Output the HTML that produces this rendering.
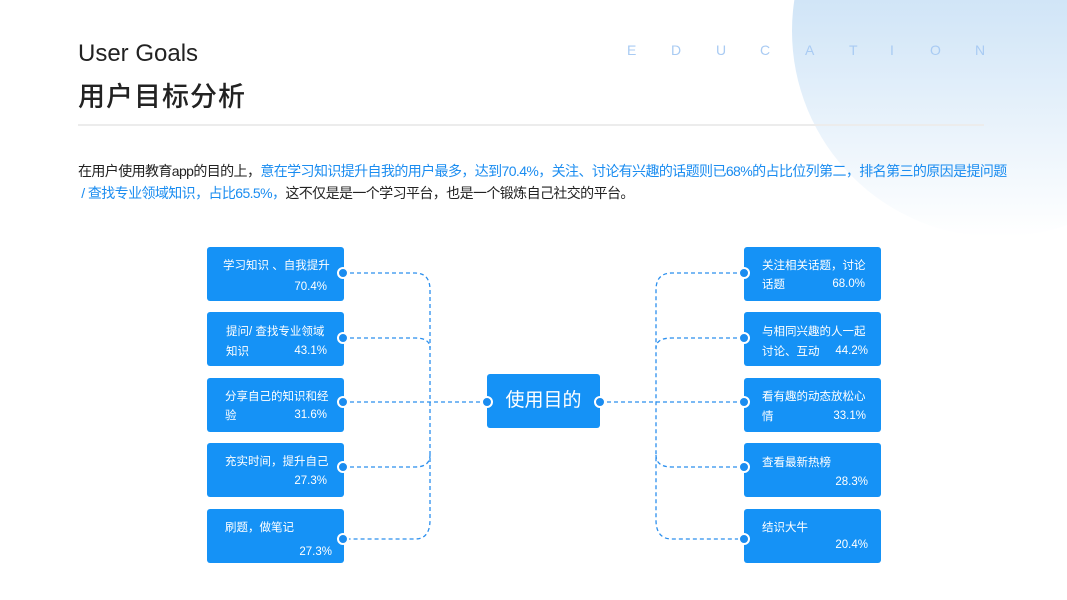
<!DOCTYPE html>
<html><head><meta charset="utf-8">
<style>
*{margin:0;padding:0;box-sizing:border-box}
body{width:1067px;height:600px;overflow:hidden;background:#fff;position:relative;font-family:"Liberation Sans","Noto Sans CJK SC",sans-serif}
.circ{position:absolute;left:792px;top:-175px;width:412px;height:412px;border-radius:50%;background:linear-gradient(180deg,#b3d4f1 0%,#d6e8f8 50%,#ffffff 100%)}
.t1{position:absolute;left:78px;top:40px;font-size:24px;color:#222}
.t2{position:absolute;left:78px;top:75px;font-size:27px;color:#222;font-weight:500;letter-spacing:1px}
.edu{position:absolute;top:42px;font-size:14px;color:#a9cbf3}
.line{position:absolute;left:78px;top:124px;width:906px;height:2px;background:#ececec}
.p{position:absolute;left:78px;top:160px;font-size:14px;color:#222;line-height:22px;white-space:nowrap;letter-spacing:-0.6px}
.b{color:#1a8cf0}
.box{position:absolute;width:137px;height:54px;background:#1592f6;border-radius:3px;color:#fff;font-size:11.5px}
.box span{position:absolute}
.c{position:absolute;left:487px;top:374px;width:113px;height:54px;background:#1592f6;border-radius:3px;color:#fff;font-size:19px;text-align:center;line-height:54px}
svg{position:absolute;left:0;top:0}
</style></head><body>
<div class="circ"></div>
<div class="t1">User Goals</div>
<div class="t2">用户目标分析</div>
<div class="edu" style="left:627px">E</div>
<div class="edu" style="left:671px">D</div>
<div class="edu" style="left:716px">U</div>
<div class="edu" style="left:760px">C</div>
<div class="edu" style="left:805px">A</div>
<div class="edu" style="left:849px">T</div>
<div class="edu" style="left:890px">I</div>
<div class="edu" style="left:930px">O</div>
<div class="edu" style="left:975px">N</div>
<div class="line"></div>
<div class="p">在用户使用教育app的目的上，<span class="b">意在学习知识提升自我的用户最多，达到70.4%，关注、讨论有兴趣的话题则已68%的占比位列第二，排名第三的原因是提问题</span><br><span class="b">&nbsp;/ 查找专业领域知识，占比65.5%，</span>这不仅是是一个学习平台，也是一个锻炼自己社交的平台。</div>

<svg width="1067" height="600" viewBox="0 0 1067 600">
<g fill="none" stroke="#2b8fee" stroke-width="1.3" stroke-dasharray="4,3">
<path d="M343 273 H415 Q430 273 430 290 V520 Q430 539 415 539 H343"/>
<path d="M343 338 H415 Q430 338 430 348"/>
<path d="M343 467 H415 Q430 467 430 455"/>
<path d="M343 402 H487"/>
<path d="M744 273 H672 Q656 273 656 290 V520 Q656 539 672 539 H744"/>
<path d="M744 338 H672 Q656 338 656 348"/>
<path d="M744 467 H672 Q656 467 656 455"/>
<path d="M600 402 H744"/>
</g>
</svg>

<div class="box" style="left:207px;top:247px"><span style="left:16px;top:10px">学习知识 、自我提升</span><span style="right:17px;top:34px">70.4%</span></div>
<div class="box" style="left:207px;top:312px"><span style="left:19px;top:11px">提问/ 查找专业领域</span><span style="left:19px;top:31px">知识</span><span style="right:17px;top:33px">43.1%</span></div>
<div class="box" style="left:207px;top:378px"><span style="left:18px;top:10px">分享自己的知识和经</span><span style="left:18px;top:29px">验</span><span style="right:17px;top:31px">31.6%</span></div>
<div class="box" style="left:207px;top:443px"><span style="left:18px;top:10px">充实时间，提升自己</span><span style="right:17px;top:32px">27.3%</span></div>
<div class="box" style="left:207px;top:509px"><span style="left:18px;top:10px">刷题，做笔记</span><span style="right:12px;top:37px">27.3%</span></div>

<div class="box" style="left:744px;top:247px"><span style="left:18px;top:10px">关注相关话题，讨论</span><span style="left:18px;top:29px">话题</span><span style="right:16px;top:31px">68.0%</span></div>
<div class="box" style="left:744px;top:312px"><span style="left:18px;top:11px">与相同兴趣的人一起</span><span style="left:18px;top:31px">讨论、互动</span><span style="right:13px;top:33px">44.2%</span></div>
<div class="box" style="left:744px;top:378px"><span style="left:18px;top:10px">看有趣的动态放松心</span><span style="left:18px;top:30px">情</span><span style="right:15px;top:32px">33.1%</span></div>
<div class="box" style="left:744px;top:443px"><span style="left:18px;top:11px">查看最新热榜</span><span style="right:13px;top:33px">28.3%</span></div>
<div class="box" style="left:744px;top:509px"><span style="left:18px;top:10px">结识大牛</span><span style="right:13px;top:30px">20.4%</span></div>

<div class="c">使用目的</div>

<svg width="1067" height="600" viewBox="0 0 1067 600">
<g fill="#1a8cf0" stroke="#fff" stroke-width="2">
<circle cx="343" cy="273" r="5"/><circle cx="343" cy="338" r="5"/><circle cx="343" cy="402" r="5"/><circle cx="343" cy="467" r="5"/><circle cx="343" cy="539" r="5"/>
<circle cx="744" cy="273" r="5"/><circle cx="744" cy="338" r="5"/><circle cx="744" cy="402" r="5"/><circle cx="744" cy="467" r="5"/><circle cx="744" cy="539" r="5"/>
<circle cx="487" cy="402" r="5"/><circle cx="600" cy="402" r="5"/>
</g>
</svg>
</body></html>
